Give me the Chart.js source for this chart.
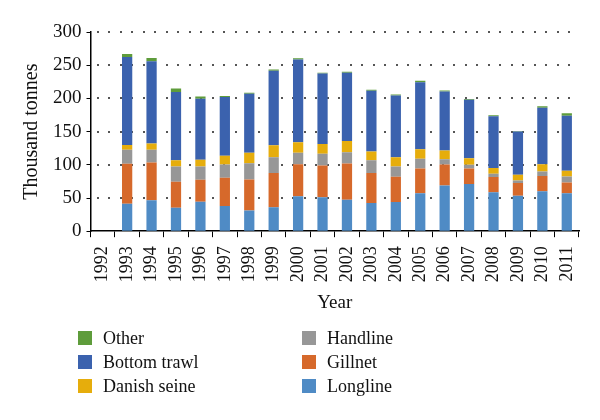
<!DOCTYPE html>
<html>
<head>
<meta charset="utf-8">
<script src="https://cdn.jsdelivr.net/npm/chart.js@4"></script>
<style>
  body { margin: 0; background: #fff; }
  #wrap { position: relative; width: 600px; height: 420px; }
  #legend { position: absolute; left: 0; top: 326px; width: 600px; height: 80px;
            font-family: "Liberation Serif", serif; font-size: 18px; color: #111; }
  .item { position: absolute; height: 24px; line-height: 24px; white-space: nowrap; }
  .box { position: absolute; left: 0; top: 5px; width: 14px; height: 14px; }
  .lbl { position: absolute; left: 25px; top: 0; }
</style>
</head>
<body>
<div id="wrap">
  <canvas id="myChart" width="600" height="420"></canvas>
  <div id="legend"></div>
</div>
<script>
// categories
var years = ['1992', '1993', '1994', '1995', '1996', '1997', '1998', '1999', '2000', '2001',
             '2002', '2003', '2004', '2005', '2006', '2007', '2008', '2009', '2010', '2011'];
// catches, thousand tonnes
var longline    = [null, 41.5, 46.5, 35.5, 44.5, 38, 31, 36, 52.5, 51, 47.5, 42.5, 44, 57, 69, 71, 58.5, 53.5, 60, 57];
var gillnet     = [null, 60, 57, 39, 33, 42.5, 47, 51.5, 48.5, 48, 54.5, 45, 38, 37.5, 31.5, 23.5, 23, 19, 23, 16.5];
var handline    = [null, 21, 19, 23, 20, 20, 24.5, 24, 17, 17.5, 17, 19.5, 15.5, 14.5, 8, 5.5, 5, 4, 7, 9];
var danishSeine = [null, 7.5, 9.5, 9.5, 10, 13, 15.5, 18, 16, 15, 17, 13, 14, 14.5, 13, 10, 8.5, 8.5, 11, 8.5];
var bottomTrawl = [null, 132.5, 124, 102.5, 92, 88.5, 89, 112, 124.5, 106, 102.5, 91.5, 93, 101, 89, 88, 78, 65, 85, 83];
var other       = [null, 4.5, 5, 5.5, 3.5, 1.5, 1.5, 2, 2, 1, 1.5, 1.5, 1.5, 2, 1.5, 1, 1.5, 1, 2, 3.5];
// y ticks
var yTicks = [0, 50, 100, 150, 200, 250, 300];

var serif = '"Liberation Serif", "Times New Roman", serif';

function ds(label, data, color) {
    return { label: label, data: data, backgroundColor: color, borderWidth: 0,
             barPercentage: 0.42, categoryPercentage: 1 };
}

// dotted horizontal gridlines at the y ticks, drawn behind the bars
var dottedGrid = {
    id: 'dottedGrid',
    beforeDatasetsDraw: function(chart) {
        var c = chart.ctx, y = chart.scales.y, area = chart.chartArea;
        c.save();
        c.fillStyle = '#555';
        yTicks.forEach(function(v) {
            if (v === 0) return;
            var py = Math.round(y.getPixelForValue(v));
            for (var px = area.left + 6; px < area.right; px += 11.5) {
                c.fillRect(Math.round(px), py - 1, 2, 2);
            }
        });
        c.restore();
    }
};

window.onload = function() {
    var ctx = document.getElementById('myChart').getContext('2d');
    var datasets = [
        ds('Longline', longline, '#4f8bc5'),
        ds('Gillnet', gillnet, '#d6692b'),
        ds('Handline', handline, '#979797'),
        ds('Danish seine', danishSeine, '#e6ad0c'),
        ds('Bottom trawl', bottomTrawl, '#3b62ae'),
        ds('Other', other, '#5e9c3b')
    ];
    var myChart = new Chart(ctx, {
        type: 'bar',
        data: { labels: years, datasets: datasets },
        options: {
            responsive: false,
            animation: false,
            layout: { padding: { left: 16, right: 21, top: 32, bottom: 106 } },
            plugins: { legend: { display: false }, tooltip: { enabled: false } },
            scales: {
                x: {
                    stacked: true,
                    offset: true,
                    grid: { offset: true, drawOnChartArea: false, color: '#000', tickLength: 6 },
                    border: { color: '#000', width: 1.5 },
                    ticks: { color: '#111', font: { family: serif, size: 18 }, autoSkip: false,
                             maxRotation: 90, minRotation: 90, padding: 9 },
                    title: { display: true, text: 'Year', color: '#111',
                             font: { family: serif, size: 19 }, padding: { top: 0, bottom: 0 } }
                },
                y: {
                    stacked: true,
                    min: 0,
                    max: 300,
                    afterBuildTicks: function(scale) {
                        scale.ticks = yTicks.map(function(v) { return { value: v }; });
                    },
                    grid: { drawOnChartArea: false, drawTicks: true, tickLength: 4, color: '#000' },
                    border: { display: true, color: '#000', width: 1.5 },
                    ticks: { color: '#111', font: { family: serif, size: 19 }, padding: 5 },
                    title: { display: true, text: 'Thousand tonnes', color: '#111',
                             font: { family: serif, size: 20 }, padding: { bottom: 4 } }
                }
            }
        },
        plugins: [dottedGrid]
    });

    // two-column legend, same order as the reference
    var order = [['Other', 'Bottom trawl', 'Danish seine'], ['Handline', 'Gillnet', 'Longline']];
    var colLeft = [78, 302];
    var legend = document.getElementById('legend');
    order.forEach(function(col, c) {
        col.forEach(function(name, r) {
            var d = datasets.filter(function(x) { return x.label === name; })[0];
            var item = document.createElement('div');
            item.className = 'item';
            item.style.left = colLeft[c] + 'px';
            item.style.top = (r * 24) + 'px';
            item.innerHTML = '<span class="box" style="background:' + d.backgroundColor +
                             '"></span><span class="lbl">' + name + '</span>';
            legend.appendChild(item);
        });
    });
};
</script>
</body>
</html>
